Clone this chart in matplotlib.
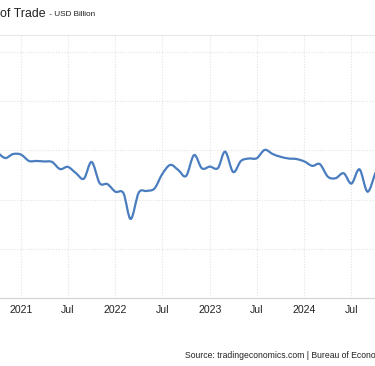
import matplotlib
matplotlib.use("Agg")
import matplotlib.pyplot as plt
import matplotlib.dates as mdates
import numpy as np
import pandas as pd
from matplotlib.path import Path
from matplotlib.patches import PathPatch

plt.rcParams['font.family'] = ['Liberation Sans', 'DejaVu Sans']

# ---- data (USD Billion, monthly) ----
months = pd.date_range('2020-10-01', '2024-10-01', freq='MS')
values = [-80.7, -83.1, -81.5,
          -81.7, -84.3, -84.3, -84.5, -84.7, -87.6, -86.7, -89.2, -91.5, -84.7, -93.3, -93.7,
          -96.8, -97.4, -107.9, -97.2, -96.5, -95.5, -89.6, -85.9, -88.0, -90.4, -81.9, -87.3,
          -86.6, -87.2, -80.5, -88.8, -84.3, -83.3, -83.2, -79.8, -81.5, -82.6, -83.3, -83.5,
          -84.5, -86.3, -85.6, -90.7, -91.3, -89.3, -93.5, -87.7, -96.8, -89.2]
tick_dates = ['2021-01-01', '2021-07-01', '2022-01-01', '2022-07-01',
              '2023-01-01', '2023-07-01', '2024-01-01', '2024-07-01']
tick_labels = ['2021', 'Jul', '2022', 'Jul', '2023', 'Jul', '2024', 'Jul']
y_grid = [-120, -100, -80, -60, -40]

W, H = 375, 366
fig = plt.figure(figsize=(W / 100, H / 100), dpi=100)
ax = fig.add_axes([0, (H - 298) / H, 1, (298 - 35) / H])

x = mdates.date2num(months)
y = np.array(values, dtype=float)

# smooth spline-like path through the monthly points
verts = [(x[0], y[0])]
codes = [Path.MOVETO]
n = len(x)
for i in range(n - 1):
    p0 = i - 1 if i > 0 else i
    p3 = i + 2 if i + 2 < n else i + 1
    c1 = (x[i] + (x[i + 1] - x[p0]) / 6, y[i] + (y[i + 1] - y[p0]) / 6)
    c2 = (x[i + 1] - (x[p3] - x[i]) / 6, y[i + 1] - (y[p3] - y[i]) / 6)
    verts += [c1, c2, (x[i + 1], y[i + 1])]
    codes += [Path.CURVE4] * 3
patch = PathPatch(Path(verts, codes), facecolor='none', edgecolor='#4a7dbf',
                  lw=1.6, capstyle='round', joinstyle='round', zorder=3)
ax.add_patch(patch)

ax.set_xlim(mdates.date2num(pd.Timestamp('2020-10-12')),
            mdates.date2num(pd.Timestamp('2024-09-30')))
ax.set_ylim(-140, -33.1)

ax.set_xticks(mdates.date2num(pd.to_datetime(tick_dates)))
ax.set_xticklabels(tick_labels)
ax.set_yticks(y_grid)
ax.tick_params(axis='y', length=0, labelleft=False)
ax.tick_params(axis='x', length=0, pad=5, labelsize=7.6, labelcolor='#222222')
ax.grid(True, color='#e3e3e3', linestyle=(0, (1, 1.5)), lw=0.8)
for s in ['left', 'right']:
    ax.spines[s].set_visible(False)
ax.spines['bottom'].set_color('#d6d6d6')
ax.spines['bottom'].set_linewidth(0.9)
ax.spines['top'].set_color('#e3e3e3')
ax.spines['top'].set_linestyle((0, (1, 1.5)))
ax.spines['top'].set_linewidth(0.8)

# title (left part falls outside the visible region)
t1 = fig.text(0.0, 1 - 14 / H, 'of Trade', fontsize=8.9, color='#222222',
              va='center', ha='left')
fig.canvas.draw()
r = fig.canvas.get_renderer()
bb = t1.get_window_extent(renderer=r)
fig.text(bb.x1 / W + 1 / W, 1 - 14.5 / H, ' - USD Billion', fontsize=5.9,
         color='#222222', va='center', ha='left')

fig.text(185 / W, 1 - 356 / H, 'Source: tradingeconomics.com | Bureau of Economic Analysis',
         fontsize=6.2, color='#222222', va='center', ha='left')

fig.savefig('out.png', dpi=100)
